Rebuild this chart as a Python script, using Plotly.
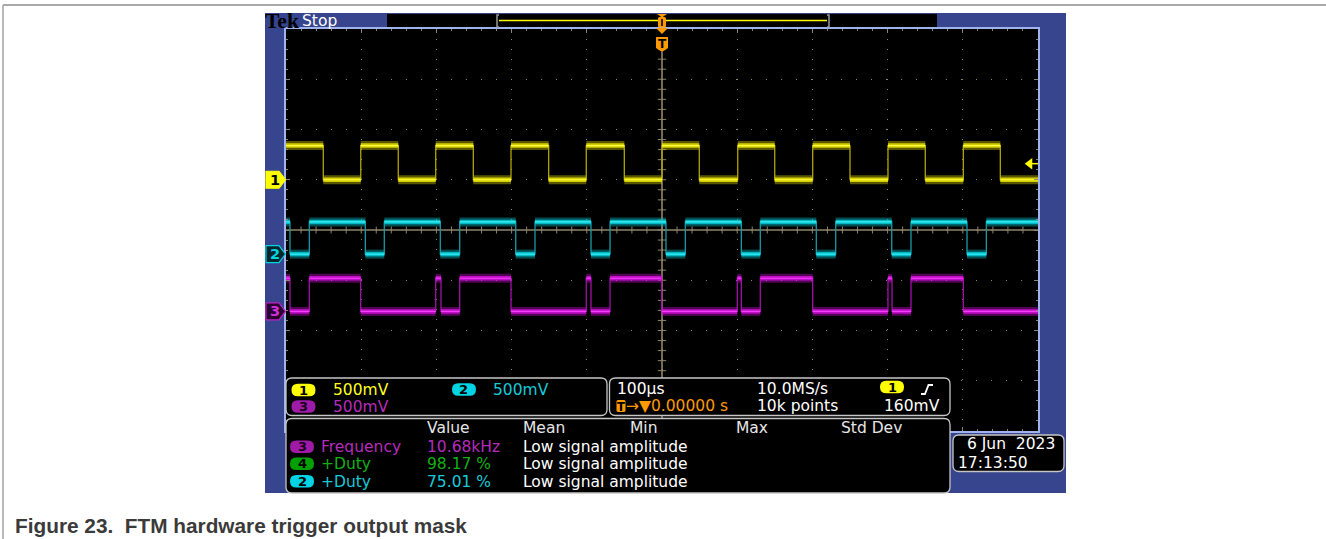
import numpy as np
import plotly.graph_objects as go

W, H = 1326, 539

# ---------------- acquisition settings ----------------
time_per_div_us = 100          # 100 µs/div
volts_per_div = 0.5            # 500 mV/div on all channels
time_range_us = [-500, 500]    # 10 horizontal divisions, trigger at centre
div_range = [-4, 4]            # 8 vertical divisions
trigger_level_v = 0.16         # ch1 rising edge, 160 mV

# ---------------- channel 1 (yellow) ----------------
ch1_position = 1.0             # ground marker, divisions
ch1_levels = [0.0, 0.34]       # low / high, volts
ch1_starts_high = True
ch1_edges_us = [-450.4, -400.6, -350.7, -300.9, -250.9, -200.8, -150.7, -100.7,
                -50.1, 0.0, 49.6, 100.7, 149.9, 200.4, 250.0, 300.5, 350.1,
                400.7, 449.9]

# ---------------- channel 2 (cyan) ----------------
ch2_position = -0.48
ch2_levels = [0.0, 0.32]
ch2_starts_high = True
ch2_edges_us = [-494.7, -469.0, -394.5, -369.3, -294.8, -269.0, -194.5, -168.9,
                -94.4, -69.1, 5.3, 31.0, 105.5, 130.7, 205.2, 231.0, 305.5,
                331.1, 405.6, 431.3]

# ---------------- channel 3 (magenta) ----------------
ch3_position = -1.62
ch3_levels = [0.0, 0.33]
ch3_starts_high = True
ch3_edges_us = [-494.7, -469.0, -400.7, -300.9, -293.9, -269.0, -200.8, -100.7,
                -94.4, -69.1, -0.4, 100.1, 105.5, 130.7, 200.4, 300.5, 305.9,
                331.1, 400.7]

# ---------------- readouts ----------------
channel_scales = ["500mV", "500mV", "500mV"]
timebase_text = "100µs"
sample_rate_text = "10.0MS/s"
record_length_text = "10k points"
trigger_level_text = "160mV"
trigger_position_text = "→▼0.00000 s"
meas_headers = ["Value", "Mean", "Min", "Max", "Std Dev"]
meas_sources = ["3", "4", "2"]
meas_names = ["Frequency", "+Duty", "+Duty"]
meas_values = ["10.68kHz", "98.17 %", "75.01 %"]
meas_means = ["Low signal amplitude", "Low signal amplitude", "Low signal amplitude"]
date_text = "6 Jun\u00a0\u00a02023"
time_text = "17:13:50"
caption_text = "Figure 23.\u00a0\u00a0FTM hardware trigger output mask"

# ---------------- colours ----------------
FRAME_BLUE = "#36458d"
EDGE_BLUE = "#9fb4ee"
GRID_DOT = "#8a8468"
CROSS = "#8f836a"
BOX_EDGE = "#c6c6c6"
ORANGE = "#ff9900"
YEL = "#ffff00"
CYAN = "#00d4e4"
PURPLE = "#a01aa8"
PURPLE_TXT = "#b52cbd"
GREEN = "#00a000"
GREEN_TXT = "#14b014"
CYAN_TXT = "#18cad8"
FONT = "DejaVu Sans"

# screen geometry of the graticule (pixels)
GX0, GY0, GX1, GY1 = 286, 29, 1038, 431


def P(x, y):
    """pixel -> paper coordinates"""
    return x / W, 1 - y / H


def t2px(t):
    return GX0 + (t - time_range_us[0]) / (time_range_us[1] - time_range_us[0]) * (GX1 - GX0)


def rrect_path(x0, y0, x1, y1, r):
    def f(x, y):
        a, b = P(x, y)
        return f"{a:.6f},{b:.6f}"
    return (f"M {f(x0 + r, y0)} L {f(x1 - r, y0)} Q {f(x1, y0)} {f(x1, y0 + r)} "
            f"L {f(x1, y1 - r)} Q {f(x1, y1)} {f(x1 - r, y1)} L {f(x0 + r, y1)} "
            f"Q {f(x0, y1)} {f(x0, y1 - r)} L {f(x0, y0 + r)} Q {f(x0, y0)} {f(x0 + r, y0)} Z")


def poly_path(pts):
    s = []
    for i, (x, y) in enumerate(pts):
        a, b = P(x, y)
        s.append(("M " if i == 0 else "L ") + f"{a:.6f},{b:.6f}")
    return " ".join(s) + " Z"


def step_wave(edges, starts_high, levels, position):
    t = [time_range_us[0]] + list(edges) + [time_range_us[1]]
    state = starts_high
    ys = []
    seg_x, seg_y = [], []
    for i in range(len(t) - 1):
        v = levels[1] if state else levels[0]
        y = position + v / volts_per_div
        ys.append(y)
        seg_x += [t[i], t[i + 1], None]
        seg_y += [y, y, None]
        state = not state
    ys.append(ys[-1])
    return t, ys, seg_x, seg_y


fig = go.Figure()

# centre crosshair with minor ticks
fig.add_trace(go.Scatter(x=time_range_us, y=[0, 0], mode="lines",
                         line=dict(color=CROSS, width=1.4), hoverinfo="skip"))
top_div = div_range[1] - (52 - GY0) / ((GY1 - GY0) / 8)
fig.add_trace(go.Scatter(x=[0, 0], y=[div_range[0], top_div], mode="lines",
                         line=dict(color="#a8987a", width=1.4), hoverinfo="skip"))
fig.add_trace(go.Scatter(x=np.arange(-480, 500, 20), y=np.zeros(49), mode="markers",
                         marker=dict(symbol="line-ns", size=5, line=dict(color=CROSS, width=1)),
                         hoverinfo="skip"))
fig.add_trace(go.Scatter(x=np.zeros(39), y=np.round(np.arange(-3.8, 3.81, 0.2), 2), mode="markers",
                         marker=dict(symbol="line-ew", size=6, line=dict(color=CROSS, width=1)),
                         hoverinfo="skip"))

channels = [
    (ch1_edges_us, ch1_starts_high, ch1_levels, ch1_position, "#b0a400", "rgba(220,214,0,0.4)", "rgba(226,220,0,0.9)", "#ffff40"),
    (ch2_edges_us, ch2_starts_high, ch2_levels, ch2_position, "#1a9aa4", "rgba(0,190,200,0.4)", "rgba(0,196,206,0.9)", "#40f0f8"),
    (ch3_edges_us, ch3_starts_high, ch3_levels, ch3_position, "#a010a8", "rgba(200,16,208,0.4)", "rgba(206,16,214,0.9)", "#f040f8"),
]
for edges, sh, lv, pos, edge_c, halo_c, band_c, core_c in channels:
    tx, ty, sx, sy = step_wave(edges, sh, lv, pos)
    fig.add_trace(go.Scatter(x=sx, y=sy, mode="lines", line=dict(color=halo_c, width=9),
                             hoverinfo="skip"))
    fig.add_trace(go.Scatter(x=tx, y=ty, mode="lines", line=dict(color=edge_c, width=1.3, shape="hv"),
                             hoverinfo="skip"))
    fig.add_trace(go.Scatter(x=sx, y=sy, mode="lines", line=dict(color=band_c, width=4.5),
                             hoverinfo="skip"))
    fig.add_trace(go.Scatter(x=sx, y=sy, mode="lines", line=dict(color=core_c, width=1.2),
                             hoverinfo="skip"))

# trigger level indicator on the right edge
trig_div = ch1_position + trigger_level_v / volts_per_div
fig.add_trace(go.Scatter(x=[491, 500], y=[trig_div, trig_div], mode="lines",
                         line=dict(color=YEL, width=1.5), hoverinfo="skip"))
fig.add_trace(go.Scatter(x=[489], y=[trig_div], mode="markers",
                         marker=dict(symbol="triangle-left", size=10, color=YEL), hoverinfo="skip"))

shapes = []
# scope frame & graticule background
shapes.append(dict(type="rect", xref="paper", yref="paper", layer="below",
                   x0=265 / W, x1=1066 / W, y0=1 - 493 / H, y1=1 - 13 / H,
                   fillcolor=FRAME_BLUE, line=dict(width=0)))
shapes.append(dict(type="rect", xref="paper", yref="paper", layer="below",
                   x0=GX0 / W, x1=GX1 / W, y0=1 - GY1 / H, y1=1 - GY0 / H,
                   fillcolor="black", line=dict(width=0)))
# record view bar
shapes.append(dict(type="rect", xref="paper", yref="paper", layer="below",
                   x0=387 / W, x1=937 / W, y0=1 - 28 / H, y1=1 - 14 / H,
                   fillcolor="black", line=dict(width=0)))
shapes.append(dict(type="line", xref="paper", yref="paper",
                   x0=499 / W, x1=827 / W, y0=1 - 20.5 / H, y1=1 - 20.5 / H,
                   line=dict(color=YEL, width=1.6)))
for bx, d in ((497, 1), (829, -1)):
    shapes.append(dict(type="path", xref="paper", yref="paper",
                       path=(f"M {(bx + 2 * d) / W},{1 - 15 / H} L {bx / W},{1 - 15 / H} "
                             f"L {bx / W},{1 - 27 / H} L {(bx + 2 * d) / W},{1 - 27 / H}"),
                       line=dict(color="#9a9a9a", width=1.5)))

# trigger position markers
tp = t2px(0)
shapes.append(dict(type="path", xref="paper", yref="paper",
                   path=poly_path([(tp - 5, 14), (tp + 5, 14), (tp, 17.5)]),
                   fillcolor=ORANGE, line=dict(width=0)))
shapes.append(dict(type="path", xref="paper", yref="paper",
                   path=rrect_path(tp - 4, 17, tp + 4, 27.5, 1.5),
                   fillcolor=ORANGE, line=dict(width=0)))
shapes.append(dict(type="line", xref="paper", yref="paper",
                   x0=tp / W, x1=tp / W, y0=1 - 19 / H, y1=1 - 26 / H,
                   line=dict(color="black", width=1.6)))
shapes.append(dict(type="path", xref="paper", yref="paper",
                   path=poly_path([(tp - 6, 28), (tp + 6, 28), (tp, 34)]),
                   fillcolor=ORANGE, line=dict(width=0)))
shapes.append(dict(type="path", xref="paper", yref="paper",
                   path=poly_path([(tp - 6, 37), (tp + 6, 37), (tp + 6, 48), (tp, 52), (tp - 6, 48)]),
                   fillcolor=ORANGE, line=dict(width=0)))

# channel ground markers on the left edge
marker_h = 8.5 / ((GY1 - GY0) / 8)
for pos, fill, edge in ((ch1_position, YEL, YEL), (ch2_position, "#04262c", CYAN),
                        (ch3_position, "#2a0430", "#c020c8")):
    xs = [266 / W, 279 / W, 285.5 / W, 279 / W, 266 / W]
    ys = [pos + marker_h, pos + marker_h, pos, pos - marker_h, pos - marker_h]
    path = "M " + " L ".join(f"{a:.6f},{b:.4f}" for a, b in zip(xs, ys)) + " Z"
    shapes.append(dict(type="path", xref="paper", yref="y", path=path,
                       fillcolor=fill, line=dict(color=edge, width=1.2)))

# readout panels
for (x0, y0, x1, y1) in ((286, 378, 607, 415.5), (609.5, 378, 950, 415.5),
                         (286, 418.5, 950, 493), (953, 435, 1064, 471.5)):
    shapes.append(dict(type="path", xref="paper", yref="paper", path=rrect_path(x0, y0, x1, y1, 6),
                       fillcolor="black", line=dict(color=BOX_EDGE, width=1.3)))

# channel badges inside readouts
badges = [
    (303.5, 390, YEL, "1", "black"),
    (464, 389.5, CYAN, "2", "black"),
    (303.5, 406.5, PURPLE, "3", "#1a001a"),
    (892, 387, YEL, "1", "black"),
    (302, 446.7, PURPLE, meas_sources[0], "#1a001a"),
    (302, 463.8, GREEN, meas_sources[1], "black"),
    (302, 481.2, CYAN, meas_sources[2], "black"),
]
for cx, cy, col, _, _ in badges:
    shapes.append(dict(type="path", xref="paper", yref="paper",
                       path=rrect_path(cx - 12, cy - 6.3, cx + 12, cy + 6.3, 6.3),
                       fillcolor=col, line=dict(width=0)))

# rising-slope icon and trigger-position icon
shapes.append(dict(type="path", xref="paper", yref="paper",
                   path=(f"M {921 / W},{1 - 394 / H} L {925 / W},{1 - 394 / H} "
                         f"L {928.5 / W},{1 - 385 / H} L {933 / W},{1 - 385 / H}"),
                   line=dict(color="white", width=1.8)))
shapes.append(dict(type="path", xref="paper", yref="paper",
                   path=rrect_path(616.5, 400, 625.5, 412, 1.5),
                   fillcolor=ORANGE, line=dict(width=0)))

# page frame
shapes.append(dict(type="line", xref="paper", yref="paper", x0=3 / W, x1=1, y0=1 - 5 / H, y1=1 - 5 / H,
                   line=dict(color="#8c8c8c", width=1.6)))
shapes.append(dict(type="line", xref="paper", yref="paper", x0=3 / W, x1=3 / W, y0=0, y1=1 - 5 / H,
                   line=dict(color="#a8a8a8", width=1.6)))

for s in shapes:
    s.setdefault("layer", "above")
fig.update_layout(shapes=shapes)

annotations = []


def label(text, x, y, color="white", size=15.5, anchor="left", family=FONT, weight="normal"):
    a, b = P(x, y)
    annotations.append(dict(x=a, y=b, xref="paper", yref="paper", text=text, showarrow=False,
                            xanchor=anchor, yanchor="middle", borderpad=0,
                            font=dict(family=family, size=size, color=color, weight=weight)))


# top bar
label("Tek", 264, 20.5, color="black", size=21.5, family="Liberation Serif", weight="bold")
label("Stop", 301, 21, color="white", size=15.5)
label("T", tp, 43.5, color="black", size=12, anchor="center", weight="bold")

# channel ground marker digits
for pos, col, txt in ((ch1_position, "black", "1"), (ch2_position, CYAN, "2"), (ch3_position, "#d030d8", "3")):
    annotations.append(dict(x=274.5 / W, y=pos, xref="paper", yref="y", text=txt, showarrow=False,
                            xanchor="center", yanchor="middle", borderpad=0,
                            font=dict(family=FONT, size=14.5, color=col, weight="bold")))

# badge digits
for cx, cy, _, txt, tc in badges:
    label(txt, cx, cy, color=tc, size=13, anchor="center", weight="bold")

# vertical scale readout
label(channel_scales[0], 332, 389.5, color="#ffff20")
label(channel_scales[1], 492, 389.5, color=CYAN_TXT)
label(channel_scales[2], 332, 406.5, color=PURPLE_TXT)

# horizontal / trigger readout
label(timebase_text, 616, 389)
label(sample_rate_text, 756, 389)
label(record_length_text, 756, 406)
label(trigger_level_text, 941, 406, anchor="right")
label("T", 621, 406.5, color="black", size=11.5, anchor="center", weight="bold")
label(trigger_position_text, 625, 406, color=ORANGE)

# measurement table
for txt, x in zip(meas_headers, [426, 522, 629, 735, 840]):
    label(txt, x, 428, color="#e6e6e6")
row_y = [446.5, 464, 481.5]
name_cols = [PURPLE_TXT, GREEN_TXT, CYAN_TXT]
for i in range(3):
    label(meas_names[i], 320, row_y[i], color=name_cols[i])
    label(meas_values[i], 426, row_y[i], color=name_cols[i])
    label(meas_means[i], 522, row_y[i], color="white")

# date / time
label(date_text, 966, 444)
label(time_text, 957, 462.5)

# caption
label(caption_text, 14, 525.5, color="#3a3a3a", size=20.8, family="Liberation Sans", weight="bold")

fig.update_layout(
    annotations=annotations,
    width=W, height=H,
    margin=dict(l=0, r=0, t=0, b=0),
    paper_bgcolor="white",
    plot_bgcolor="black",
    showlegend=False,
    xaxis=dict(domain=[GX0 / W, GX1 / W], range=time_range_us, dtick=time_per_div_us, tick0=0,
               showgrid=True, gridcolor=GRID_DOT, gridwidth=1, griddash="1px,9px",
               ticks="inside", ticklen=4, tickcolor=GRID_DOT, tickwidth=1,
               minor=dict(dtick=20, ticks="inside", ticklen=2, tickcolor=GRID_DOT, showgrid=False),
               mirror="allticks", showline=True, linecolor=EDGE_BLUE, linewidth=1.5,
               showticklabels=False, zeroline=False, fixedrange=True),
    yaxis=dict(domain=[1 - GY1 / H, 1 - GY0 / H], range=div_range, dtick=1, tick0=0,
               showgrid=True, gridcolor=GRID_DOT, gridwidth=1, griddash="1px,14px",
               ticks="inside", ticklen=4, tickcolor=GRID_DOT, tickwidth=1,
               minor=dict(dtick=0.2, ticks="inside", ticklen=2, tickcolor=GRID_DOT, showgrid=False),
               mirror="allticks", showline=True, linecolor=EDGE_BLUE, linewidth=1.5,
               showticklabels=False, zeroline=False, fixedrange=True),
)

fig.write_html("out.html")
